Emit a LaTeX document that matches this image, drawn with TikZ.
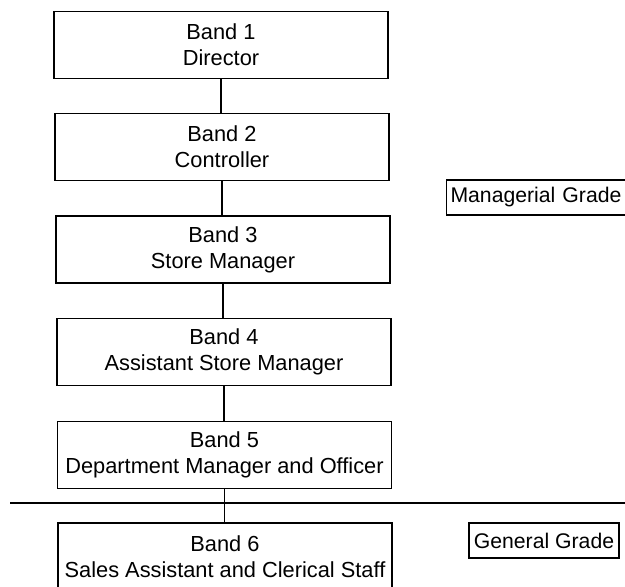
\documentclass[tikz,border=0pt]{standalone}
\usepackage{fontspec}
\setmainfont{Liberation Sans}
\begin{document}
\begin{tikzpicture}[x=1pt,y=-1pt,
  band/.style={draw,line width=1.2pt,rectangle,align=center,inner sep=0pt,
    font=\fontsize{21.8}{26}\selectfont,minimum width=334pt,minimum height=67pt},
  grade/.style={draw,line width=1.1pt,rectangle,inner sep=0pt,font=\fontsize{21.2}{24}\selectfont},
  conn/.style={line width=1.2pt}]
\useasboundingbox (0,0) rectangle (625,587);
\begin{scope}
\clip (0,0) rectangle (625,587);
\node[band] (b1) at (221,45) {Band 1\\Director};
\node[band] (b2) at (222,147) {Band 2\\Controller};
\node[band] (b3) at (223,249.5) {Band 3\\Store Manager};
\node[band] (b4) at (224,352) {Band 4\\Assistant Store Manager};
\node[band] (b5) at (224.5,455) {Band 5\\Department Manager and Officer};
\node[band] (b6) at (225,556.5) {Band 6\\Sales Assistant and Clerical Staff};
\node[grade,anchor=west,minimum height=35pt,minimum width=200pt,text width=192pt,align=left,inner xsep=4pt] (mg) at (446,197.5) {Managerial Grade};
\node[grade,minimum height=35pt,minimum width=150pt] (gg) at (544,540.5) {General Grade};
\coordinate (hl) at (10,503);
\coordinate (hr) at (640,503);
\draw[conn] (hl) -- (hr);
\draw[conn] (b1.south) -- (b1.south |- b2.north);
\draw[conn] (b2.south) -- (b2.south |- b3.north);
\draw[conn] (b3.south) -- (b3.south |- b4.north);
\draw[conn] (b4.south) -- (b4.south |- b5.north);
\draw[conn] (b5.south) -- (b5.south |- b6.north);
\end{scope}
\end{tikzpicture}
\end{document}
